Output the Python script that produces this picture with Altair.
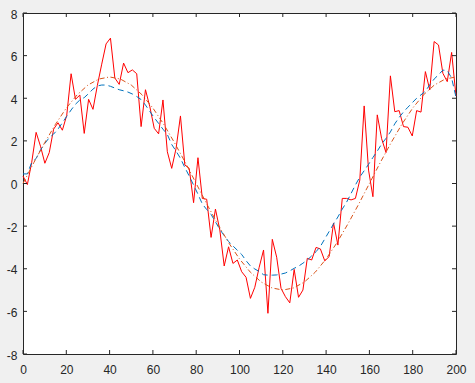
import altair as alt
import pandas as pd

# ---- data ----
x_values = [0, 2.02, 4.04, 6.06, 8.08, 10.10, 12.12, 14.14, 16.16, 18.18,
            20.20, 22.22, 24.24, 26.26, 28.28, 30.30, 32.32, 34.34, 36.36, 38.38,
            40.40, 42.42, 44.44, 46.46, 48.48, 50.51, 52.53, 54.55, 56.57, 58.59,
            60.61, 62.63, 64.65, 66.67, 68.69, 70.71, 72.73, 74.75, 76.77, 78.79,
            80.81, 82.83, 84.85, 86.87, 88.89, 90.91, 92.93, 94.95, 96.97, 98.99,
            101.01, 103.03, 105.05, 107.07, 109.09, 111.11, 113.13, 115.15, 117.17, 119.19,
            121.21, 123.23, 125.25, 127.27, 129.29, 131.31, 133.33, 135.35, 137.37, 139.39,
            141.41, 143.43, 145.45, 147.47, 149.49, 151.52, 153.54, 155.56, 157.58, 159.60,
            161.62, 163.64, 165.66, 167.68, 169.70, 171.72, 173.74, 175.76, 177.78, 179.80,
            181.82, 183.84, 185.86, 187.88, 189.90, 191.92, 193.94, 195.96, 197.98, 200]

noisy = [0.35, -0.05, 1.0, 2.4, 1.75, 0.95, 1.45, 2.55, 2.85, 2.5,
         3.2, 5.15, 3.95, 4.15, 2.35, 3.95, 3.48, 4.6, 5.6, 6.55,
         6.82, 4.95, 4.65, 5.65, 5.2, 5.33, 5.15, 2.67, 4.4, 3.6,
         2.59, 2.33, 3.92, 1.49, 0.71, 1.65, 3.17, 0.87, 0.71, -0.9,
         1.21, -0.7, -0.74, -2.53, -1.2, -2.18, -3.87, -2.97, -3.75, -3.59,
         -4.14, -4.4, -5.39, -4.87, -3.93, -3.12, -6.09, -2.62, -3.46, -4.92,
         -5.31, -5.6, -4.03, -5.34, -5.0, -3.51, -3.59, -3.0, -3.07, -3.63,
         -3.43, -1.85, -2.89, -0.7, -0.7, -0.77, -0.7, 0.16, 3.64, 0.63,
         -0.62, 3.22, 2.1, 1.45, 5.05, 3.37, 3.42, 2.67, 2.64, 2.23,
         3.42, 3.35, 5.25, 4.39, 6.66, 6.5, 5.17, 4.78, 6.15, 4.1]

smoothed = [0.45, 0.45, 1.0, 1.17, 1.57, 1.88, 2.15, 2.32, 2.55, 2.85,
            3.15, 3.45, 3.72, 3.92, 4.03, 4.22, 4.43, 4.58, 4.62, 4.62,
            4.56, 4.48, 4.4, 4.35, 4.29, 4.2, 4.08, 3.94, 3.68, 3.38,
            3.09, 2.82, 2.55, 2.3, 1.83, 1.52, 1.18, 0.75, 0.35, -0.07,
            -0.5, -0.96, -1.22, -1.45, -1.8, -2.15, -2.45, -2.72, -2.93, -3.13,
            -3.33, -3.62, -3.87, -4.01, -4.13, -4.28, -4.3, -4.3, -4.29, -4.25,
            -4.2, -4.1, -3.98, -3.88, -3.74, -3.59, -3.4, -3.2, -2.95, -2.6,
            -2.25, -1.9, -1.57, -1.2, -0.87, -0.47, -0.07, 0.3, 0.6, 0.9,
            1.22, 1.52, 1.85, 2.12, 2.42, 2.8, 3.1, 3.36, 3.58, 3.79,
            4.0, 4.16, 4.33, 4.63, 4.9, 5.1, 5.32, 5.3, 4.95, 4.05]

x_true = [0, 5, 10, 15, 20, 25, 30, 35, 40, 45, 50, 55, 60, 65, 70, 75, 80,
          85, 90, 95, 100, 105, 110, 115, 120, 125, 130, 135, 140, 145, 150,
          155, 160, 165, 170, 175, 180, 185, 190, 195, 200]
true_vals = [0, 0.98, 1.91, 2.78, 3.54, 4.16, 4.62, 4.9, 5.0,
             4.9, 4.62, 4.16, 3.54, 2.78, 1.91, 0.98, 0,
             -0.98, -1.91, -2.78, -3.54, -4.16, -4.62, -4.9, -5.0,
             -4.9, -4.62, -4.16, -3.54, -2.78, -1.91, -0.98, 0,
             0.98, 1.91, 2.78, 3.54, 4.16, 4.62, 4.9, 5.0]

x_ticks = [0, 20, 40, 60, 80, 100, 120, 140, 160, 180, 200]
y_ticks = [-8, -6, -4, -2, 0, 2, 4, 6, 8]

# ---- chart ----
W, H = 433, 341
AX = "#262626"
FONT = "Liberation Sans"
TL = 4

df = pd.DataFrame({"x": x_values, "noisy": noisy, "smoothed": smoothed})
df_true = pd.DataFrame({"x": x_true, "y": true_vals})
df_xt = pd.DataFrame({"t": x_ticks})
df_yt = pd.DataFrame({"t": y_ticks})

xs = alt.Scale(domain=[0, 200], nice=False, zero=False)
ys = alt.Scale(domain=[-8, 8], nice=False, zero=False)

x_axis = alt.Axis(values=x_ticks, ticks=False, domain=False, grid=False,
                  labelFlush=False, labelOverlap=False,
                  labelPadding=10, labelFontSize=12, labelFont=FONT,
                  labelColor=AX, labelExpr="datum.value + ''", title=None)
y_axis = alt.Axis(values=y_ticks, ticks=False, domain=False, grid=False,
                  labelFlush=False, labelOverlap=False, labelBaseline="middle",
                  labelOffset=1,
                  labelPadding=6, labelFontSize=12, labelFont=FONT,
                  labelColor=AX, labelExpr="datum.value + ''", title=None)


def X(field):
    return alt.X(field, scale=xs, axis=x_axis)


def Y(field):
    return alt.Y(field, scale=ys, axis=y_axis)


red = alt.Chart(df).mark_line(color="#FF0000", strokeWidth=1).encode(
    x=X("x:Q"), y=Y("noisy:Q"))
blue = alt.Chart(df).mark_line(color="#0072BD", strokeWidth=1, strokeDash=[6, 4]).encode(
    x=X("x:Q"), y=Y("smoothed:Q"))
orange = alt.Chart(df_true).mark_line(color="#D95319", strokeWidth=1,
                                      strokeDash=[5, 2.5, 1, 2.5]).encode(
    x=X("x:Q"), y=Y("y:Q"))

tick_bottom = alt.Chart(df_xt).mark_rule(color=AX, strokeWidth=1).encode(
    x=X("t:Q"), y=alt.value(H), y2=alt.value(H - TL))
tick_top = alt.Chart(df_xt).mark_rule(color=AX, strokeWidth=1).encode(
    x=X("t:Q"), y=alt.value(0), y2=alt.value(TL))
tick_left = alt.Chart(df_yt).mark_rule(color=AX, strokeWidth=1).encode(
    y=Y("t:Q"), x=alt.value(0), x2=alt.value(TL))
tick_right = alt.Chart(df_yt).mark_rule(color=AX, strokeWidth=1).encode(
    y=Y("t:Q"), x=alt.value(W), x2=alt.value(W - TL))

chart = alt.layer(
    red, blue, orange, tick_bottom, tick_top, tick_left, tick_right
).properties(
    width=W, height=H,
    autosize=alt.AutoSizeParams(type="none"),
    padding={"left": 23, "top": 13, "right": 19, "bottom": 29},
    background="#F0F0F0",
).configure_view(
    stroke=AX, strokeWidth=1, fill="white"
)

chart.save("out.html", embed_options={"renderer": "svg", "actions": False})
